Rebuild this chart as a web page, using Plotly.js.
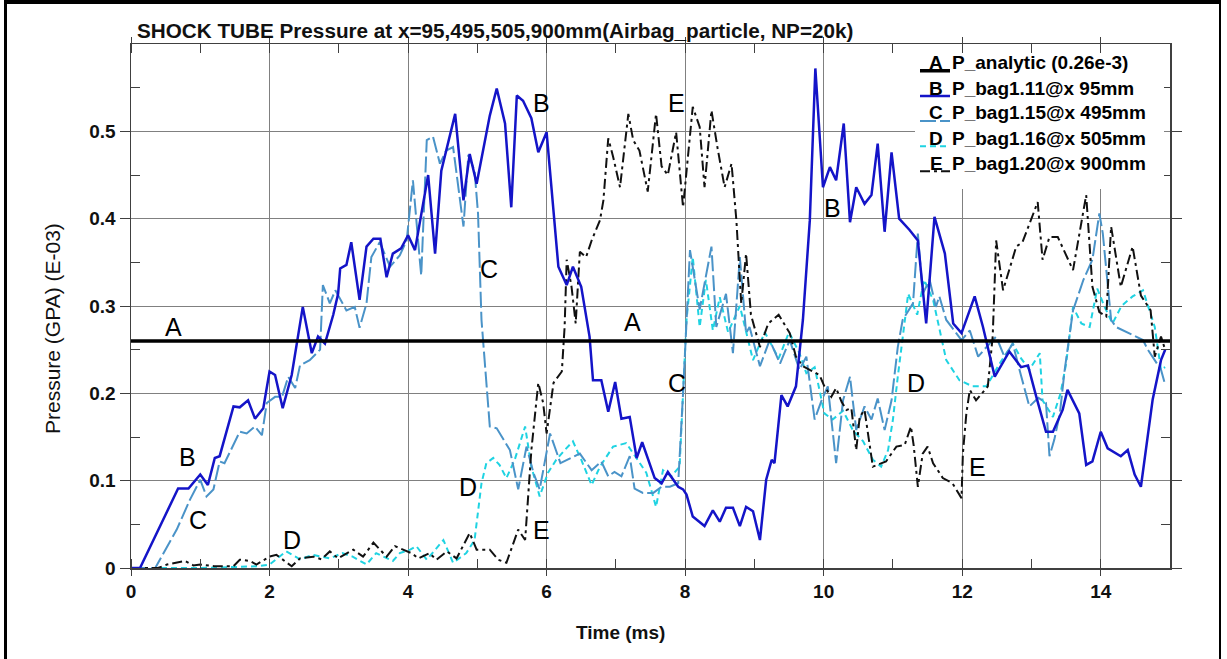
<!DOCTYPE html>
<html>
<head>
<meta charset="utf-8">
<script src="https://cdn.plot.ly/plotly-3.0.1.min.js"></script>
<style>
html,body{margin:0;padding:0;background:#fff;}
#wrap{position:relative;width:1227px;height:659px;}
#chart{position:absolute;left:0;top:0;width:1227px;height:659px;}
#frame{position:absolute;left:4px;top:0;width:1212px;height:662px;border-left:3px solid #000;border-top:4px solid #000;border-right:2px solid #000;pointer-events:none;}
</style>
</head>
<body>
<div id="wrap"><div id="chart"></div><div id="frame"></div></div>
<script>
// ---- data (time in ms, pressure in GPa E-03) ----
const seriesNames = ["P_analytic (0.26e-3)", "P_bag1.11@x 95mm", "P_bag1.15@x 495mm", "P_bag1.16@x 505mm", "P_bag1.20@x 900mm"];
const seriesLetters = ["A", "B", "C", "D", "E"];

const A_t = [0, 15];
const A_v = [0.26, 0.26];

const B_t = [0,0.13,0.68,0.83,1.0,1.11,1.21,1.28,1.48,1.57,1.69,1.79,1.91,2.0,2.08,2.19,2.32,2.48,2.61,2.70,2.80,2.92,2.99,3.02,3.11,3.18,3.30,3.40,3.50,3.60,3.69,3.78,3.90,4.0,4.10,4.29,4.39,4.48,4.68,4.80,4.89,4.99,5.18,5.28,5.40,5.49,5.57,5.66,5.78,5.88,6.0,6.17,6.29,6.38,6.50,6.62,6.67,6.79,6.89,6.99,7.08,7.20,7.30,7.38,7.56,7.66,7.75,7.90,7.97,8.02,8.11,8.28,8.40,8.50,8.59,8.69,8.79,8.88,8.98,9.08,9.17,9.25,9.29,9.39,9.48,9.60,9.70,9.80,9.88,9.91,9.99,10.09,10.18,10.29,10.38,10.47,10.59,10.69,10.78,10.88,10.98,11.09,11.24,11.36,11.48,11.60,11.75,11.87,11.99,12.18,12.30,12.47,12.68,12.85,12.95,13.07,13.21,13.31,13.45,13.52,13.69,13.79,13.88,14.0,14.10,14.29,14.39,14.49,14.58,14.75,14.87,14.93];
const B_v = [0,0,0.091,0.091,0.107,0.095,0.126,0.128,0.185,0.184,0.192,0.171,0.183,0.225,0.221,0.183,0.221,0.299,0.246,0.265,0.257,0.29,0.314,0.343,0.347,0.373,0.307,0.368,0.377,0.377,0.333,0.360,0.366,0.381,0.364,0.450,0.360,0.455,0.52,0.421,0.474,0.440,0.518,0.549,0.509,0.413,0.541,0.535,0.515,0.476,0.499,0.345,0.324,0.345,0.322,0.265,0.215,0.215,0.179,0.213,0.171,0.173,0.126,0.144,0.103,0.097,0.110,0.093,0.090,0.084,0.059,0.048,0.066,0.053,0.069,0.069,0.048,0.070,0.065,0.032,0.101,0.124,0.12,0.198,0.185,0.208,0.284,0.398,0.572,0.532,0.436,0.459,0.444,0.509,0.396,0.436,0.417,0.427,0.486,0.385,0.476,0.400,0.387,0.375,0.280,0.402,0.360,0.280,0.269,0.311,0.276,0.219,0.248,0.230,0.232,0.196,0.156,0.156,0.181,0.204,0.177,0.118,0.122,0.156,0.137,0.128,0.135,0.107,0.093,0.193,0.238,0.25];

const C_t = [0,0.35,0.66,0.85,1.0,1.09,1.19,1.28,1.35,1.57,1.67,1.79,1.89,1.96,2.08,2.18,2.27,2.37,2.44,2.58,2.73,2.77,2.87,2.95,3.11,3.23,3.30,3.40,3.47,3.59,3.74,3.88,3.98,4.07,4.17,4.19,4.27,4.36,4.46,4.55,4.65,4.80,4.87,4.96,5.01,5.06,5.18,5.28,5.47,5.59,5.71,5.81,5.90,6.05,6.20,6.31,6.48,6.65,6.79,6.89,6.98,7.08,7.20,7.27,7.39,7.54,7.66,7.78,7.90,7.97,8.02,8.07,8.21,8.38,8.45,8.59,8.69,8.79,8.88,8.93,9.08,9.22,9.37,9.51,9.65,9.75,9.87,9.97,10.06,10.18,10.28,10.38,10.47,10.59,10.69,10.78,10.88,10.98,11.07,11.14,11.29,11.36,11.43,11.53,11.62,11.67,11.77,11.89,11.99,12.11,12.23,12.35,12.49,12.61,12.73,12.85,12.97,13.10,13.21,13.26,13.33,13.41,13.48,13.60,13.75,13.88,13.98,14.03,14.15,14.22,14.32,14.51,14.61,14.68,14.87,14.93];
const C_v = [0,0,0.044,0.078,0.101,0.082,0.090,0.122,0.120,0.156,0.154,0.162,0.152,0.189,0.196,0.196,0.219,0.206,0.232,0.238,0.25,0.324,0.303,0.318,0.295,0.299,0.275,0.303,0.356,0.373,0.345,0.358,0.375,0.444,0.352,0.335,0.49,0.494,0.463,0.478,0.482,0.391,0.473,0.455,0.406,0.284,0.162,0.160,0.135,0.090,0.139,0.109,0.090,0.154,0.120,0.124,0.131,0.112,0.122,0.105,0.110,0.105,0.128,0.091,0.086,0.086,0.093,0.093,0.097,0.2,0.284,0.364,0.296,0.368,0.276,0.314,0.246,0.356,0.269,0.276,0.231,0.261,0.234,0.261,0.227,0.242,0.170,0.192,0.208,0.120,0.192,0.219,0.158,0.185,0.170,0.194,0.158,0.192,0.253,0.284,0.303,0.383,0.314,0.33,0.299,0.311,0.284,0.272,0.261,0.272,0.242,0.253,0.265,0.242,0.257,0.22,0.185,0.195,0.189,0.128,0.147,0.177,0.227,0.295,0.33,0.353,0.406,0.383,0.284,0.276,0.272,0.265,0.261,0.25,0.227,0.21];

const D_t = [0,1.0,1.84,2.0,2.24,2.44,2.63,2.87,3.05,3.2,3.40,3.54,3.78,3.88,4.03,4.12,4.27,4.51,4.65,4.84,4.96,5.06,5.13,5.23,5.32,5.42,5.54,5.69,5.78,5.90,6.02,6.14,6.26,6.38,6.50,6.65,6.77,6.96,7.15,7.30,7.44,7.58,7.68,7.80,7.92,8.02,8.11,8.21,8.30,8.40,8.50,8.62,8.79,8.98,9.15,9.35,9.50,9.65,9.75,9.87,10.01,10.13,10.28,10.42,10.57,10.71,10.83,10.93,11.0,11.07,11.14,11.22,11.35,11.45,11.58,11.67,11.77,11.96,12.15,12.35,12.54,12.73,12.85,12.97,13.12,13.16,13.31,13.42,13.50,13.60,13.72,13.84,13.95,14.05,14.17,14.30,14.46,14.61,14.78,14.87,14.93];
const D_v = [0,0,0.002,0.004,0.019,0.01,0.015,0.011,0.017,0.013,0.004,0.017,0.008,0.017,0.021,0.025,0.0095,0.032,0.006,0.017,0.032,0.097,0.120,0.126,0.118,0.103,0.124,0.162,0.116,0.082,0.109,0.124,0.135,0.145,0.124,0.095,0.116,0.139,0.143,0.125,0.109,0.070,0.112,0.105,0.116,0.284,0.356,0.276,0.33,0.272,0.31,0.27,0.3,0.238,0.27,0.24,0.27,0.246,0.223,0.23,0.177,0.170,0.18,0.158,0.145,0.124,0.116,0.135,0.170,0.219,0.261,0.314,0.29,0.33,0.307,0.276,0.238,0.215,0.208,0.208,0.234,0.257,0.24,0.227,0.246,0.192,0.173,0.2,0.234,0.299,0.28,0.276,0.32,0.3,0.280,0.3,0.311,0.318,0.276,0.227,0.23];

const E_t = [0,0.39,0.52,0.78,0.9,1.0,1.2,1.48,1.57,1.72,1.81,2.0,2.1,2.19,2.32,2.44,2.63,2.75,2.87,2.99,3.21,3.35,3.50,3.69,3.81,4.05,4.15,4.31,4.41,4.56,4.70,4.89,4.99,5.18,5.30,5.42,5.59,5.69,5.78,5.88,5.95,6.0,6.1,6.22,6.26,6.29,6.36,6.42,6.48,6.57,6.65,6.77,6.82,6.89,6.96,7.06,7.18,7.25,7.34,7.46,7.58,7.66,7.75,7.87,7.97,8.11,8.21,8.28,8.38,8.47,8.57,8.67,8.74,8.81,8.88,8.95,9.0,9.08,9.2,9.35,9.51,9.60,9.70,9.80,9.94,10.01,10.11,10.18,10.26,10.33,10.40,10.47,10.52,10.59,10.67,10.71,10.90,11.05,11.17,11.26,11.30,11.36,11.43,11.50,11.58,11.72,11.86,11.99,12.01,12.06,12.11,12.20,12.37,12.44,12.47,12.49,12.59,12.78,12.87,13.09,13.16,13.26,13.38,13.60,13.79,13.88,13.98,14.08,14.15,14.29,14.46,14.58,14.72,14.78,14.87,14.93];
const E_v = [0,0,0.004,0.008,0.003,0.004,0.002,0.002,0.0095,0.008,0.004,0.013,0.015,0.0095,0.002,0.011,0.013,0.01,0.019,0.011,0.021,0.013,0.029,0.013,0.025,0.017,0.011,0.017,0.0095,0.019,0.011,0.040,0.021,0.021,0.0095,0.006,0.044,0.032,0.135,0.212,0.189,0.154,0.212,0.225,0.276,0.353,0.322,0.28,0.362,0.356,0.375,0.398,0.421,0.492,0.471,0.436,0.520,0.490,0.478,0.431,0.520,0.46,0.450,0.499,0.413,0.528,0.505,0.436,0.524,0.48,0.436,0.463,0.398,0.303,0.360,0.29,0.276,0.253,0.28,0.29,0.269,0.242,0.231,0.227,0.221,0.208,0.196,0.206,0.190,0.181,0.183,0.135,0.173,0.181,0.139,0.116,0.122,0.139,0.141,0.162,0.14,0.093,0.131,0.139,0.120,0.103,0.097,0.080,0.131,0.177,0.204,0.192,0.208,0.265,0.330,0.375,0.318,0.368,0.373,0.419,0.353,0.379,0.379,0.341,0.427,0.322,0.293,0.288,0.391,0.322,0.368,0.312,0.295,0.242,0.265,0.25];

// in-plot letter labels
const labelText = ["A","A","B","B","B","C","C","C","D","D","D","E","E","E"];
const labelT = [0.61,7.24,0.82,5.93,10.13,0.97,5.17,7.88,2.32,4.86,11.33,5.93,7.88,12.22];
const labelV = [0.276,0.282,0.127,0.532,0.412,0.055,0.342,0.212,0.032,0.093,0.212,0.044,0.532,0.116];

const FONT = "Liberation Sans, Arial, Helvetica, sans-serif";
// legend entries carry only the line sample; their text is written as annotations
const legendPad = "\u00a0".repeat(43);

const traces = [
  {x:D_t, y:D_v, name:legendPad, legendrank:4, mode:"lines", line:{color:"#1fd3e2", width:2, dash:"6px,4px"}},
  {x:C_t, y:C_v, name:legendPad, legendrank:3, mode:"lines", line:{color:"#4a93c8", width:2, dash:"16px,4px"}},
  {x:E_t, y:E_v, name:legendPad, legendrank:5, mode:"lines", line:{color:"#111111", width:2, dash:"10px,4px,3px,4px"}},
  {x:B_t, y:B_v, name:legendPad, legendrank:2, mode:"lines", line:{color:"#1414c8", width:2.5}},
  {x:A_t, y:A_v, name:legendPad, legendrank:1, mode:"lines", line:{color:"#000000", width:3.5}}
];

const H = 524, T = 44;
const py = p => 1 - (p - T) / H;
const px = p => (p - 131) / 1039;

const annotations = [];
for (let i = 0; i < labelText.length; i++) {
  annotations.push({x:labelT[i], y:labelV[i], xref:"x", yref:"y", text:labelText[i], showarrow:false,
    xanchor:"center", yanchor:"middle", font:{family:FONT, size:25, color:"#000"}});
}
// legend text rows (letter sits on the line sample)
const legTextY = [63, 88, 113, 138, 163];
for (let i = 0; i < seriesLetters.length; i++) {
  annotations.push({x:px(936), y:py(legTextY[i]), xref:"paper", yref:"paper", xanchor:"center", yanchor:"middle",
    text:"<b>"+seriesLetters[i]+"</b>", showarrow:false, font:{family:FONT, size:19, color:"#000"}});
  annotations.push({x:px(950), y:py(legTextY[i]), xref:"paper", yref:"paper", xanchor:"left", yanchor:"middle",
    text:"<b>"+seriesNames[i]+"</b>", showarrow:false, font:{family:FONT, size:19, color:"#000"}});
}
// axis titles
annotations.push({x:px(620), y:py(632), xref:"paper", yref:"paper", xanchor:"center", yanchor:"middle",
  text:"<b>Time (ms)</b>", showarrow:false, font:{family:FONT, size:19, color:"#111"}});
annotations.push({x:px(52), y:py(329), xref:"paper", yref:"paper", xanchor:"center", yanchor:"middle",
  text:"Pressure (GPA) (E-03)", textangle:-90, showarrow:false, font:{family:FONT, size:21, color:"#111"}});

const axisCommon = {
  showgrid:true, gridcolor:"#808080", gridwidth:1, zeroline:false,
  showline:true, linecolor:"#404040", linewidth:1.5, mirror:"ticks",
  ticks:"outside", tickcolor:"#404040",
  tickfont:{family:FONT, size:19, color:"#111", weight:"bold"}
};

const layout = {
  width:1227, height:659,
  margin:{l:131, r:57, t:44, b:91},
  paper_bgcolor:"#fff", plot_bgcolor:"#fff",
  title:{text:"SHOCK TUBE Pressure at x=95,495,505,900mm(Airbag_particle, NP=20k)",
    x:137/1227, xanchor:"left", xref:"container", y:1-31/659, yanchor:"middle", yref:"container",
    font:{family:FONT, size:20.7, color:"#111", weight:"bold"}},
  xaxis:Object.assign({}, axisCommon, {range:[0,15], tick0:0, dtick:2, ticklen:6,
    minor:{dtick:1, ticks:"inside", ticklen:9, tickcolor:"#404040", showgrid:false}}),
  yaxis:Object.assign({}, axisCommon, {range:[0,0.6], tick0:0, dtick:0.1, ticklen:10,
    tickvals:[0,0.1,0.2,0.3,0.4,0.5], ticktext:["0","0.1","0.2","0.3","0.4","0.5"],
    minor:{tickvals:[0.05,0.15,0.25,0.35,0.45,0.55], ticks:"inside", ticklen:9, tickcolor:"#404040", showgrid:false}}),
  showlegend:true,
  legend:{x:px(915), xanchor:"left", y:py(53.3), yanchor:"top", bgcolor:"#fff", borderwidth:0,
    font:{family:FONT, size:17, color:"#111"}, itemwidth:30, tracegroupgap:0},
  annotations:annotations
};

Plotly.newPlot("chart", traces, layout, {displayModeBar:false, staticPlot:true});
</script>
</body>
</html>
